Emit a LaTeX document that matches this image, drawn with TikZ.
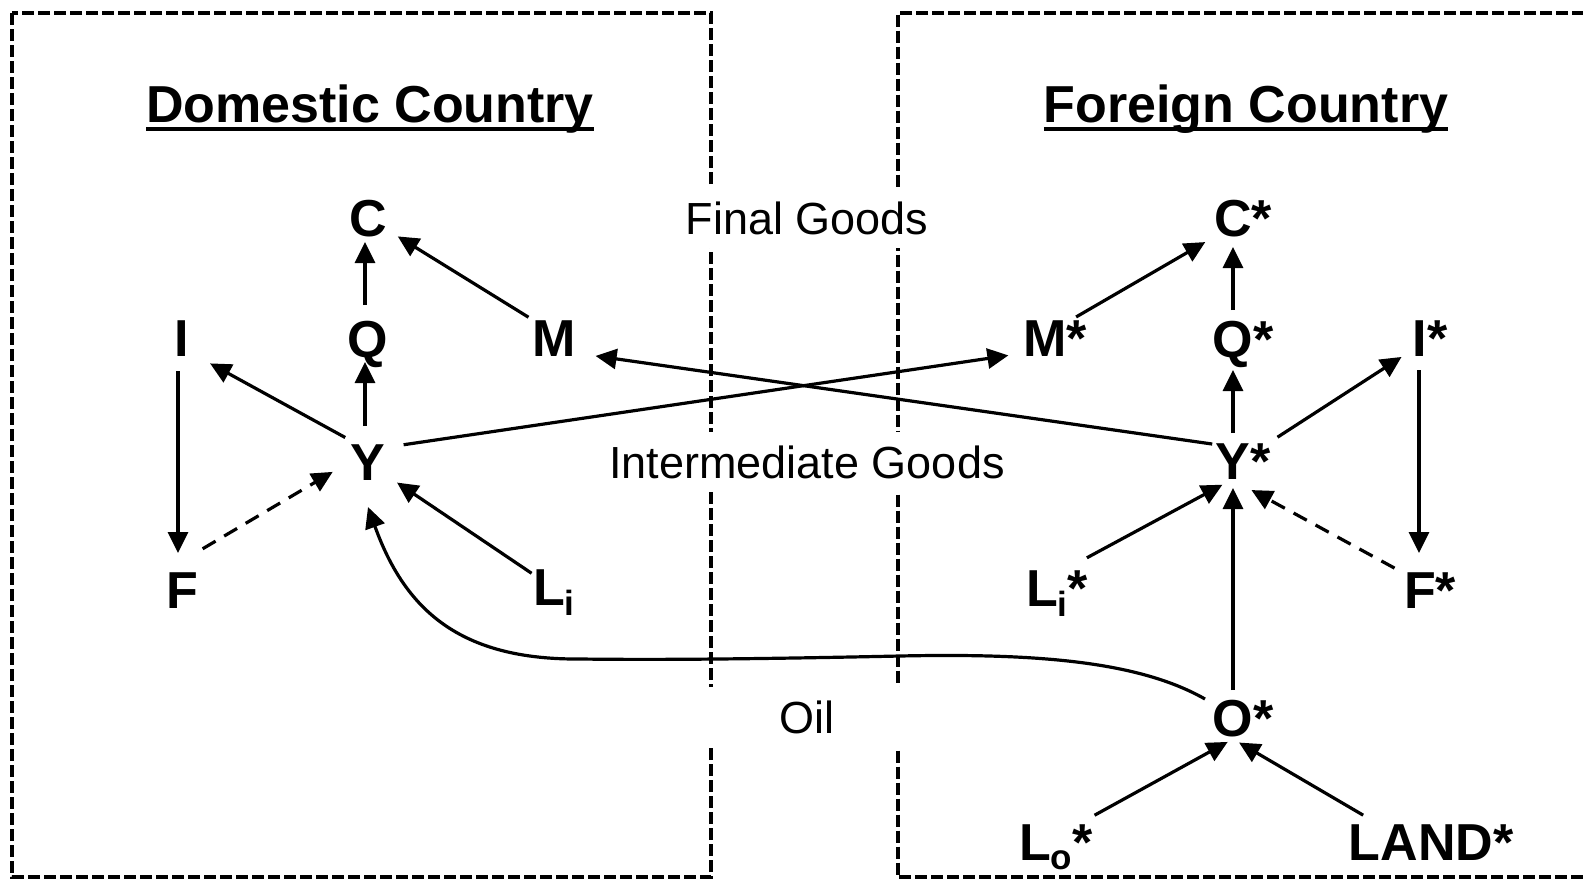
\documentclass[tikz,border=0pt]{standalone}
\usepackage{fontspec}
\setmainfont{Liberation Sans}
\usetikzlibrary{arrows.meta}
\newcommand\mysub{\fontsize{35}{35}\selectfont}
\begin{document}
\begin{tikzpicture}[x=1pt,y=-1pt,
  every node/.style={inner sep=0pt, outer sep=0pt},
  lbl/.style={font=\fontsize{52}{52}\selectfont\bfseries, text height=37pt, text depth=0pt},
  ttl/.style={font=\fontsize{52}{52}\selectfont\bfseries, anchor=base},
  gaplabel/.style={font=\fontsize{45}{45}\selectfont, fill=white, minimum width=205pt, minimum height=60pt},
  boxline/.style={line width=4pt, dash pattern=on 12pt off 4pt},
  arr/.style={line width=3.2pt, -{Triangle[length=21pt,width=20pt]}},
  darr/.style={arr, dash pattern=on 15pt off 10pt},
]
\useasboundingbox (0,0) rectangle (1583,879);

% country boxes
\draw[boxline] (12,13) rectangle (711,877);
\draw[boxline] (1600,13) -- (897.5,13) -- (897.5,877) -- (1600,877);

% trade labels (white background breaks the box edges)
\node[gaplabel] (fg) at (807,218) {Final Goods};
\node[gaplabel] (ig) at (807,462) {Intermediate Goods};
\node[gaplabel] (oil) at (807,717) {Oil};

% titles
\node[ttl] (dom) at (370,122) {Domestic Country};
\node[ttl] (for) at (1246,122) {Foreign Country};
\draw[line width=4.5pt] ([yshift=-7pt]dom.base west) -- ([yshift=-7pt]dom.base east);
\draw[line width=4.5pt] ([yshift=-7pt]for.base west) -- ([yshift=-7pt]for.base east);

% domestic nodes
\node[lbl] (C) at (368,218) {C};
\node[lbl] (Q) at (368,339) {Q};
\node[lbl] (I) at (182,338) {I};
\node[lbl] (M) at (554,338) {M};
\node[lbl] (Y) at (368,462) {Y};
\node[lbl] (F) at (182,590) {F};
\node[lbl] (Li) at (549,587) {L\rlap{\raisebox{-10pt}{\mysub i}}};

% foreign nodes
\node[lbl] (Cs) at (1233,218) {C\rlap{*}};
\node[lbl] (Ms) at (1045,338) {M\rlap{*}};
\node[lbl] (Qs) at (1233,339) {Q\rlap{*}};
\node[lbl] (Is) at (1420,338) {I\rlap{*}};
\node[lbl] (Ys) at (1233,461) {Y\rlap{*}};
\node[lbl] (Lis) at (1042,588) {L\rlap{\raisebox{-10pt}{\mysub i}*}};
\node[lbl] (Fs) at (1420,590) {F\rlap{*}};
\node[lbl] (Os) at (1233,718) {O\rlap{*}};
\node[lbl] (Los) at (1035,842) {L\rlap{\raisebox{-9pt}{\mysub o}*}};
\node[lbl] (LAND) at (1421,842) {LAND\rlap{*}};

% domestic connectors
\draw[arr, shorten <=34pt, shorten >=24pt] ([xshift=-3pt]Q.center) -- ([xshift=-3pt]C.center);
\draw[arr, shorten <=30pt, shorten >=35pt] ([yshift=5pt]M.center) -- (C.center);
\draw[arr, shorten <=36pt, shorten >=23pt] ([xshift=-3pt]Y.center) -- ([xshift=-3pt]Q.center);
\draw[arr, shorten <=26pt, shorten >=32pt] ([yshift=12pt]Y.center) -- ([yshift=-10pt]I.center);
\draw[arr, shorten <=33pt, shorten >=37pt] ([xshift=-4pt]I.center) -- ([xshift=-4pt]F.center);
\draw[darr, shorten <=24pt, shorten >=41pt] ([yshift=29pt]F.center) -- ([yshift=11pt]Y.center);
\draw[arr, shorten <=21pt, shorten >=35pt] ([yshift=2pt]Li.center) -- ([yshift=-1pt]Y.center);

% intermediate goods trade
\draw[arr, shorten <=36pt, shorten >=37pt] ([yshift=12pt]Y.center) -- ([yshift=-12pt]Ms.center);
\draw[arr, shorten <=21pt, shorten >=42pt] ([yshift=14pt]Ys.center) -- ([yshift=-12pt]M.center);

% foreign connectors
\draw[arr, shorten <=36pt, shorten >=32pt] ([yshift=3pt]Ms.center) -- ([yshift=-8pt]Cs.center);
\draw[arr, shorten <=29pt, shorten >=29pt] (Qs.center) -- (Cs.center);
\draw[arr, shorten <=28pt, shorten >=31pt] (Ys.center) -- (Qs.center);
\draw[arr, shorten <=53pt, shorten >=22pt] ([yshift=-5pt]Ys.center) -- ([yshift=-7pt]Is.center);
\draw[arr, shorten <=32pt, shorten >=37pt] ([xshift=-1pt]Is.center) -- ([xshift=-1pt]Fs.center);
\draw[darr, shorten <=29pt, shorten >=21pt] ([yshift=8pt]Fs.center) -- ([yshift=-19pt]Ys.center);
\draw[arr, shorten <=51pt, shorten >=12pt] ([yshift=6pt]Lis.center) -- ([yshift=-18pt]Ys.center);
\draw[arr, shorten <=28pt, shorten >=27pt] (Os.center) -- (Ys.center);
\draw[arr, shorten <=68pt, shorten >=6pt] ([yshift=-6pt]Los.center) -- ([yshift=-21pt]Os.center);
\draw[arr, shorten <=67pt, shorten >=7pt] ([yshift=-7pt]LAND.center) -- ([yshift=-21pt]Os.center);

% oil
\draw[arr] ([xshift=-28pt,yshift=19pt]Os.center) .. controls (1140,662) and (1040,653) .. (900,656)
  .. controls (760,659) and (660,660) .. (580,659)
  .. controls (460,660) and (405,610) .. ([yshift=-45pt]Y.center);
\end{tikzpicture}
\end{document}
